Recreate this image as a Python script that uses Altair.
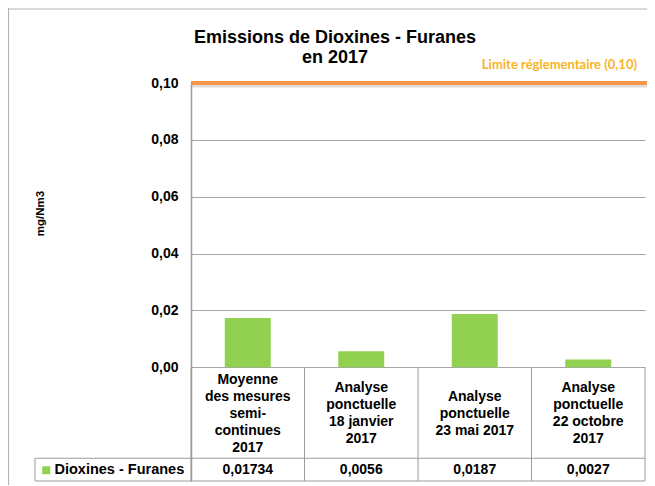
import altair as alt
import pandas as pd

# ---- data ----
categories = [
    "Moyenne\ndes mesures\nsemi-\ncontinues\n2017",
    "Analyse\nponctuelle\n18 janvier\n2017",
    "Analyse\nponctuelle\n23 mai 2017",
    "Analyse\nponctuelle\n22 octobre\n2017",
]
values = [0.01734, 0.0056, 0.0187, 0.0027]
value_labels = ["0,01734", "0,0056", "0,0187", "0,0027"]
series_name = "Dioxines - Furanes"
limit_value = 0.10
limit_label = "Limite réglementaire (0,10)"
y_ticks = [0.0, 0.02, 0.04, 0.06, 0.08, 0.10]
title_lines = ["Emissions de Dioxines - Furanes", "en 2017"]
y_title = "mg/Nm3"

# ---- layout / style ----
FONT = "Liberation Sans"
W, H = 454, 398
Y_MIN = -0.04          # table occupies area below 0
Y_MAX = 0.10
PX_PER_UNIT = H / (Y_MAX - Y_MIN)
TABLE_MID = -0.032     # line between label row and value row
LABEL_ROW_Y = -0.0163  # vertical centre of the label row
VALUE_ROW_Y = -0.0362
LINE_H = 17
GREEN = "#92D050"
ORANGE = "#F79646"
GOLD = "#F9B31F"
GRID = "#a6a6a6"
LINE = "#9c9c9c"
FRAME = "#b4b4b4"

bars_df = pd.DataFrame({"cat": categories, "value": values,
                        "label": value_labels, "series": series_name})
bars_df["base"] = 0.0
bars_df["tbot"] = Y_MIN
# first line of each multi-line label so that the block is centred in the row
n_lines = bars_df["cat"].str.count("\n") + 1
bars_df["lrow"] = LABEL_ROW_Y + (n_lines - 1) / 2 * LINE_H / PX_PER_UNIT
bars_df["vrow"] = VALUE_ROW_Y
limit_df = pd.DataFrame({"limit": [limit_value], "text": [limit_label],
                         "base": [0.0], "tbot": [Y_MIN], "tmid": [TABLE_MID]})
hlines_df = pd.DataFrame({"y": [TABLE_MID, Y_MIN]})

x_scale = alt.Scale(domain=categories, paddingInner=0, paddingOuter=0)
x_enc = alt.X("cat:N", axis=None, scale=x_scale)
y_scale = alt.Scale(domain=[Y_MIN, Y_MAX], nice=False, zero=False)

bars = alt.Chart(bars_df).mark_bar(width={"band": 0.405}).encode(
    x=x_enc,
    y=alt.Y("value:Q", scale=y_scale,
            axis=alt.Axis(values=y_ticks, grid=True, gridColor=GRID, gridWidth=1,
                          ticks=False, domainColor=LINE, domainWidth=1.5,
                          labelExpr="replace(format(datum.value, '.2f'), '.', ',')",
                          labelFont=FONT, labelFontSize=14, labelFontWeight="bold",
                          labelColor="#000", labelPadding=13,
                          title=y_title, titleFont=FONT, titleFontSize=11.5,
                          titleFontWeight="bold", titleColor="#000",
                          titleAngle=270, titleX=-151, titleY=130,
                          titleAlign="center", titleBaseline="middle")),
    y2="base:Q",
    color=alt.Color("series:N", scale=alt.Scale(range=[GREEN]),
                    legend=alt.Legend(orient="none", legendX=-152, legendY=380,
                                      title=None, symbolType="square", symbolSize=64,
                                      symbolStrokeWidth=0, labelFont=FONT,
                                      labelFontSize=14.5, labelFontWeight="bold",
                                      labelColor="#000", labelOffset=1)),
)

# table vertical lines at band edges
vlines = alt.Chart(bars_df).mark_rule(color=LINE, strokeWidth=1).encode(
    x=alt.X("cat:N", axis=None, scale=x_scale, bandPosition=0),
    y="tbot:Q", y2="base:Q",
)
vline_right = alt.Chart(limit_df).mark_rule(color=LINE, strokeWidth=1).encode(
    x=alt.value(W), y="tbot:Q", y2="base:Q",
)
vline_legend = alt.Chart(limit_df).mark_rule(color=LINE, strokeWidth=1).encode(
    x=alt.value(-156), y="tbot:Q", y2="tmid:Q",
)
hlines = alt.Chart(hlines_df).mark_rule(color=LINE, strokeWidth=1).encode(
    x=alt.value(-156), x2=alt.value(W), y="y:Q",
)

cat_text = alt.Chart(bars_df).mark_text(
    font=FONT, fontSize=14, fontWeight="bold", lineBreak="\n", lineHeight=LINE_H,
    baseline="middle", align="center", color="#000",
).encode(x=x_enc, y="lrow:Q", text="cat:N")

val_text = alt.Chart(bars_df).mark_text(
    font=FONT, fontSize=14, fontWeight="bold", baseline="middle",
    align="center", color="#000",
).encode(x=x_enc, y="vrow:Q", text="label:N")

# limit line with soft shadow
limit_shadow = alt.Chart(limit_df).mark_rule(color="#9a9a9a", strokeWidth=3,
                                             opacity=0.35, yOffset=3).encode(
    x=alt.value(0), x2=alt.value(W + 8), y="limit:Q")
limit_rule = alt.Chart(limit_df).mark_rule(color=ORANGE, strokeWidth=4).encode(
    x=alt.value(0), x2=alt.value(W + 8), y="limit:Q")
limit_text = alt.Chart(limit_df).mark_text(
    font="Lato", fontSize=13, fontWeight="bold", color=GOLD, align="right",
    baseline="middle", dy=-18,
).encode(x=alt.value(446), y="limit:Q", text="text:N")

# outer chart frame (top and left edges)
frame_top = alt.Chart(limit_df).mark_rule(color=FRAME, strokeWidth=1.2).encode(
    x=alt.value(-183), x2=alt.value(W + 2), y=alt.value(-74), y2=alt.value(-74))
frame_left = alt.Chart(limit_df).mark_rule(color=FRAME, strokeWidth=1.2).encode(
    x=alt.value(-182.5), x2=alt.value(-182.5), y=alt.value(-75), y2=alt.value(H + 4))

chart = alt.layer(
    frame_top, frame_left,
    bars, hlines, vlines, vline_right, vline_legend,
    cat_text, val_text, limit_shadow, limit_rule, limit_text,
).properties(
    width=W, height=H,
    title=alt.TitleParams(text=title_lines, font=FONT, fontSize=18,
                          fontWeight="bold", color="#000", anchor="middle",
                          frame="group", dx=-83, dy=76, offset=16, lineHeight=20),
    autosize=alt.AutoSizeParams(type="none"),
    padding={"left": 183, "top": 75, "right": 2, "bottom": 4},
).configure_view(stroke=None)

chart.save("out.html", embed_options={"renderer": "svg", "actions": False})
